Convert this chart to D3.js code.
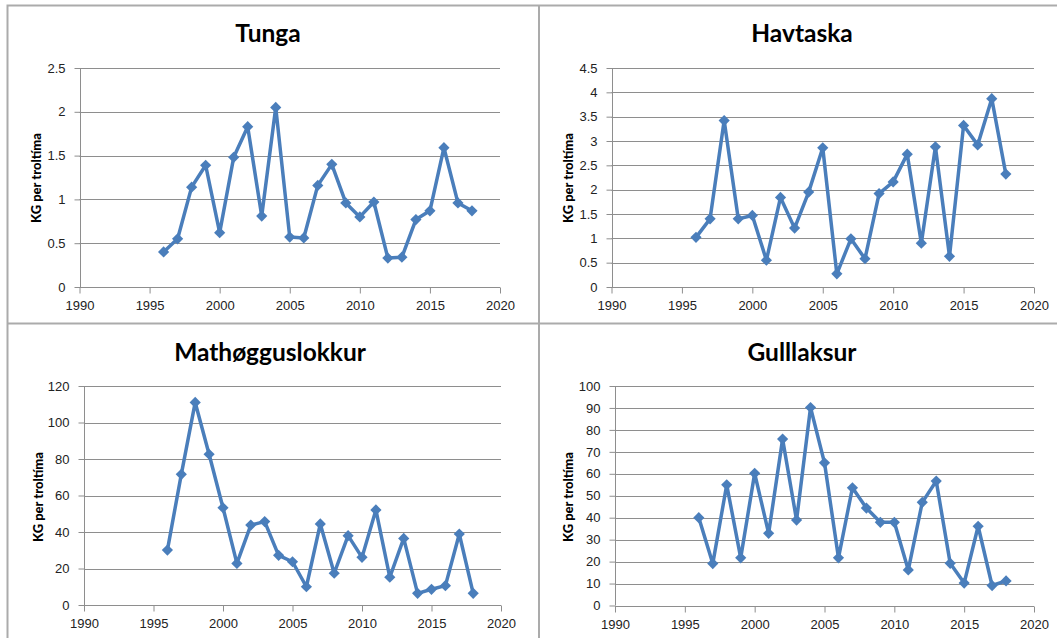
<!DOCTYPE html>
<html lang="fo">
  <head>
    <meta charset="utf-8">
    <style>
      body { margin: 0; background: #fff; }
      svg { display: block; font-family: Lato, "Open Sans", sans-serif; }
      .frame { stroke: #ababab; stroke-width: 2; fill: none; }
      .grid line { stroke: #8e8e8e; stroke-width: 1; }
      .axis path, .axis line { stroke: #8e8e8e; stroke-width: 1; }
      .axis text { fill: #222; font-size: 13px; }
      .title { font-weight: bold; font-size: 24.5px; fill: #000; }
      .ylabel { font-weight: 900; font-size: 13px; fill: #000; }
      .series { fill: none; stroke: #4a7ebb; stroke-width: 3.5; stroke-linejoin: round; }
      .marker { fill: #4a7ebb; }
    </style>
  </head>
  <body>
  <script src="https://d3js.org/d3.v7.min.js"></script>
  <script>
  var width = 1057;
  var height = 638;

  // years and catch (kg per trawl hour)
  var years = [1996, 1997, 1998, 1999, 2000, 2001, 2002, 2003, 2004, 2005, 2006, 2007,
               2008, 2009, 2010, 2011, 2012, 2013, 2014, 2015, 2016, 2017, 2018];
  var tunga = [0.40, 0.55, 1.14, 1.39, 0.62, 1.48, 1.83, 0.81, 2.05, 0.57, 0.56, 1.16,
               1.40, 0.96, 0.80, 0.97, 0.33, 0.34, 0.77, 0.87, 1.59, 0.96, 0.87];
  var havtaska = [1.02, 1.40, 3.42, 1.40, 1.47, 0.55, 1.84, 1.21, 1.95, 2.86, 0.27, 0.99,
                  0.58, 1.92, 2.16, 2.73, 0.90, 2.88, 0.63, 3.32, 2.92, 3.87, 2.32];
  var mathogguslokkur = [30.1, 71.6, 111, 82.6, 53.3, 22.8, 43.8, 45.7, 27.2, 23.7, 10.0, 44.4,
                         17.4, 38.0, 26.1, 52.1, 15.2, 36.5, 6.4, 8.6, 10.6, 38.9, 6.4];
  var gulllaksur = [40.0, 19.1, 55.0, 21.7, 60.2, 32.9, 75.8, 38.9, 90.2, 65.0, 21.7, 53.6,
                    44.4, 37.9, 37.9, 16.2, 47.0, 56.7, 19.2, 10.2, 36.1, 9.1, 11.2];

  var xTicks = [1990, 1995, 2000, 2005, 2010, 2015, 2020];
  var tungaTicks = [0, 0.5, 1, 1.5, 2, 2.5];
  var havtaskaTicks = [0, 0.5, 1, 1.5, 2, 2.5, 3, 3.5, 4, 4.5];
  var mathoggTicks = [0, 20, 40, 60, 80, 100, 120];
  var gulllaksurTicks = [0, 10, 20, 30, 40, 50, 60, 70, 80, 90, 100];

  var yLabel = "KG per troltíma";

  var panels = [
    { title: "Tunga", values: tunga, ticks: tungaTicks,
      x0: 79.5, x1: 500, top: 68, bottom: 287, titleX: 268, titleY: 42, labelX: 36, labelY: 178 },
    { title: "Havtaska", values: havtaska, ticks: havtaskaTicks,
      x0: 611.5, x1: 1034, top: 68, bottom: 287, titleX: 802, titleY: 42, labelX: 568, labelY: 178 },
    { title: "Mathøgguslokkur", values: mathogguslokkur, ticks: mathoggTicks,
      x0: 84, x1: 501, top: 386, bottom: 605, titleX: 270, titleY: 361, labelX: 38, labelY: 497 },
    { title: "Gulllaksur", values: gulllaksur, ticks: gulllaksurTicks,
      x0: 615, x1: 1034, top: 386, bottom: 605.5, titleX: 802, titleY: 361, labelX: 568, labelY: 497 }
  ];

  var svg = d3.select("body")
    .append("svg")
    .attr("width", width)
    .attr("height", height);

  // panel frames
  svg.append("path")
    .attr("class", "frame")
    .attr("d", "M7.5,638V5.5H1057 M539,5.5V638 M7.5,323.5H1057");

  var diamond = d3.symbol().type(d3.symbolDiamond2).size(80);

  panels.forEach(function(p) {
    var x = d3.scaleLinear().domain([1990, 2020]).range([p.x0, p.x1]);
    var y = d3.scaleLinear().domain([0, d3.max(p.ticks)]).range([p.bottom, p.top]);

    var g = svg.append("g");

    g.append("g")
      .attr("class", "grid")
      .selectAll("line")
      .data(p.ticks.slice(1))
      .enter().append("line")
      .attr("x1", p.x0)
      .attr("x2", p.x1)
      .attr("y1", function(d) { return Math.round(y(d)) + 0.5; })
      .attr("y2", function(d) { return Math.round(y(d)) + 0.5; });

    g.append("g")
      .attr("class", "axis")
      .attr("transform", "translate(" + (Math.round(p.x0) + 0.5) + ",0)")
      .call(d3.axisLeft(y).tickValues(p.ticks).tickSize(6).tickPadding(9)
        .tickFormat(function(d) { return String(d); }))
      .call(function(a) { a.select(".domain").attr("d", "M0," + p.top + "V" + p.bottom); });

    g.append("g")
      .attr("class", "axis")
      .attr("transform", "translate(0," + (Math.round(p.bottom) + 0.5) + ")")
      .call(d3.axisBottom(x).tickValues(xTicks).tickSize(6).tickPadding(7)
        .tickFormat(d3.format("d")))
      .call(function(a) { a.select(".domain").attr("d", "M" + p.x0 + ",0H" + p.x1); });

    var line = d3.line()
      .x(function(d, i) { return x(years[i]); })
      .y(function(d) { return y(d); });

    g.append("path")
      .datum(p.values)
      .attr("class", "series")
      .attr("d", line);

    g.selectAll(".marker")
      .data(p.values)
      .enter().append("path")
      .attr("class", "marker")
      .attr("transform", function(d, i) { return "translate(" + x(years[i]) + "," + y(d) + ")"; })
      .attr("d", diamond);

    g.append("text")
      .attr("class", "title")
      .attr("x", p.titleX)
      .attr("y", p.titleY)
      .attr("text-anchor", "middle")
      .text(p.title);

    g.append("text")
      .attr("class", "ylabel")
      .attr("text-anchor", "middle")
      .attr("transform", "translate(" + p.labelX + "," + p.labelY + ") rotate(-90)")
      .attr("dy", "0.35em")
      .text(yLabel);
  });
  </script>
  </body>
</html>
